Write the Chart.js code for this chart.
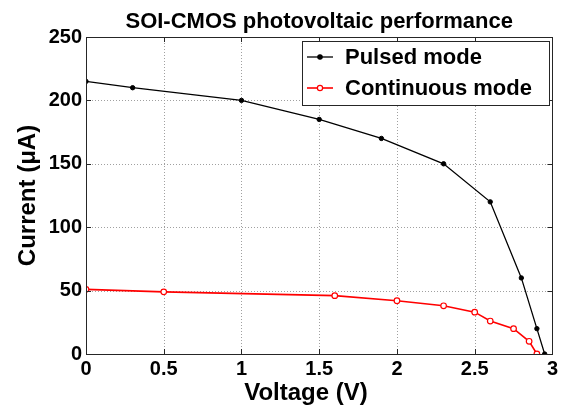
<!DOCTYPE html>
<html>
<head>
<meta charset="utf-8">
<script src="https://cdn.jsdelivr.net/npm/chart.js@4"></script>
<style>
html,body{margin:0;padding:0;background:#fff;}
#wrap{width:561px;height:408px;position:relative;}
</style>
</head>
<body>
<div id="wrap"><canvas id="c" width="561" height="408"></canvas></div>
<script>
const chartTitle = "SOI-CMOS photovoltaic performance";
const xAxisTitle = "Voltage (V)";
const yAxisTitle = "Current (\u03BCA)";
const seriesNames = ["Pulsed mode", "Continuous mode"];

const pulsedVoltage = [0, 0.3, 1.0, 1.5, 1.9, 2.3, 2.6, 2.8, 2.9, 2.95];
const pulsedCurrent = [215, 210, 200, 185, 170, 150, 120, 60, 20, 0];

const contVoltage = [0, 0.5, 1.6, 2.0, 2.3, 2.5, 2.6, 2.75, 2.85, 2.9];
const contCurrent = [51, 49, 46, 42, 38, 33, 26, 20, 10, 0];

const xTicks = [0, 0.5, 1, 1.5, 2, 2.5, 3];
const yTicks = [0, 50, 100, 150, 200, 250];

const FONT = "'Liberation Sans', Arial, Helvetica, sans-serif";

function toPoints(xs, ys) { return xs.map((x, i) => ({x: x, y: ys[i]})); }

const gridPlugin = {
  id: 'dotgrid',
  beforeDatasetsDraw(chart) {
    const ctx = chart.ctx;
    const a = chart.chartArea;
    const xs = chart.scales.x, ys = chart.scales.y;
    ctx.save();
    ctx.strokeStyle = '#a0a0a0';
    ctx.lineWidth = 1;
    ctx.setLineDash([1, 2]);
    ctx.beginPath();
    xTicks.forEach(v => {
      const px = Math.round(xs.getPixelForValue(v)) + 0.5;
      ctx.moveTo(px, a.top); ctx.lineTo(px, a.bottom);
    });
    yTicks.forEach(v => {
      const py = Math.round(ys.getPixelForValue(v)) + 0.5;
      ctx.moveTo(a.left, py); ctx.lineTo(a.right, py);
    });
    ctx.stroke();
    ctx.restore();
  }
};

const framePlugin = {
  id: 'frame',
  afterDraw(chart) {
    const ctx = chart.ctx;
    const a = chart.chartArea;
    const xs = chart.scales.x, ys = chart.scales.y;
    ctx.save();
    ctx.strokeStyle = '#262626';
    ctx.lineWidth = 1;
    ctx.setLineDash([]);
    ctx.strokeRect(Math.round(a.left) + 0.5, Math.round(a.top) + 0.5, Math.round(a.right - a.left), Math.round(a.bottom - a.top));
    const tl = 5;
    ctx.beginPath();
    xTicks.forEach(v => {
      const px = Math.round(xs.getPixelForValue(v)) + 0.5;
      ctx.moveTo(px, a.bottom); ctx.lineTo(px, a.bottom - tl);
      ctx.moveTo(px, a.top); ctx.lineTo(px, a.top + tl);
    });
    yTicks.forEach(v => {
      const py = Math.round(ys.getPixelForValue(v)) + 0.5;
      ctx.moveTo(a.left, py); ctx.lineTo(a.left + tl, py);
      ctx.moveTo(a.right, py); ctx.lineTo(a.right - tl, py);
    });
    ctx.stroke();
    // chart title
    ctx.fillStyle = '#000';
    ctx.font = "bold 22px " + FONT;
    ctx.textAlign = 'center';
    ctx.textBaseline = 'alphabetic';
    ctx.fillText(chartTitle, (a.left + a.right) / 2, 28);
    // x axis title
    ctx.font = "bold 24px " + FONT;
    ctx.fillText(xAxisTitle, 306, 400);
    // legend
    const lx = 302, ly = 41, lw = 247, lh = 64;
    ctx.fillStyle = '#fff';
    ctx.fillRect(lx, ly, lw, lh);
    ctx.strokeStyle = '#262626';
    ctx.strokeRect(lx + 0.5, ly + 0.5, lw, lh);
    const rows = [
      {name: seriesNames[0], color: '#000', y: 57, fill: '#000', r: 2.2, lw: 1.3},
      {name: seriesNames[1], color: '#ff0000', y: 88, fill: '#fff', r: 2.6, lw: 1.6}
    ];
    rows.forEach(r => {
      ctx.strokeStyle = r.color;
      ctx.lineWidth = r.lw;
      ctx.beginPath(); ctx.moveTo(307, r.y); ctx.lineTo(333, r.y); ctx.stroke();
      ctx.beginPath(); ctx.arc(320, r.y, r.r, 0, Math.PI * 2);
      ctx.fillStyle = r.fill; ctx.fill(); ctx.lineWidth = 1.2; ctx.stroke();
      ctx.fillStyle = '#000';
      ctx.font = "bold 22px " + FONT;
      ctx.textAlign = 'left';
      ctx.textBaseline = 'middle';
      ctx.fillText(r.name, 345, r.y + 1);
    });
    ctx.restore();
  }
};

new Chart(document.getElementById('c'), {
  type: 'scatter',
  data: {
    datasets: [
      {
        label: seriesNames[1],
        data: toPoints(contVoltage, contCurrent),
        showLine: true,
        borderColor: '#ff0000',
        borderWidth: 1.6,
        pointStyle: 'circle',
        pointRadius: 2.8,
        pointBorderWidth: 1.2,
        pointBackgroundColor: '#ffffff',
        pointBorderColor: '#ff0000',
        tension: 0
      },
      {
        label: seriesNames[0],
        data: toPoints(pulsedVoltage, pulsedCurrent),
        showLine: true,
        borderColor: '#000000',
        borderWidth: 1.3,
        pointStyle: 'circle',
        pointRadius: 2.2,
        pointBorderWidth: 1,
        pointBackgroundColor: '#000000',
        pointBorderColor: '#000000',
        tension: 0
      }
    ]
  },
  options: {
    responsive: false,
    animation: false,
    devicePixelRatio: 1,
    layout: {padding: {top: 37, right: 7, left: 0, bottom: 0}},
    plugins: {
      legend: {display: false},
      title: {display: false},
      tooltip: {enabled: false}
    },
    scales: {
      x: {
        type: 'linear',
        min: 0, max: 3,
        afterFit(s) { s.height = 54; },
        afterBuildTicks(s) { s.ticks = xTicks.map(v => ({value: v})); },
        ticks: {color: '#000', font: {family: FONT, size: 20, weight: 'bold'}, padding: 3, maxRotation: 0,
                callback: (v) => String(v)},
        grid: {display: false, drawTicks: false},
        border: {display: false},
        title: {display: false}
      },
      y: {
        type: 'linear',
        min: 0, max: 250,
        afterFit(s) { s.width = 86; },
        afterBuildTicks(s) { s.ticks = yTicks.map(v => ({value: v})); },
        ticks: {color: '#000', font: {family: FONT, size: 20, weight: 'bold'}, padding: 4,
                callback: (v) => String(v)},
        grid: {display: false, drawTicks: false},
        border: {display: false},
        title: {display: true, text: yAxisTitle, color: '#000', font: {family: FONT, size: 24, weight: 'bold'}, padding: {top: 14, bottom: 0}}
      }
    }
  },
  plugins: [gridPlugin, framePlugin]
});
</script>
</body>
</html>
